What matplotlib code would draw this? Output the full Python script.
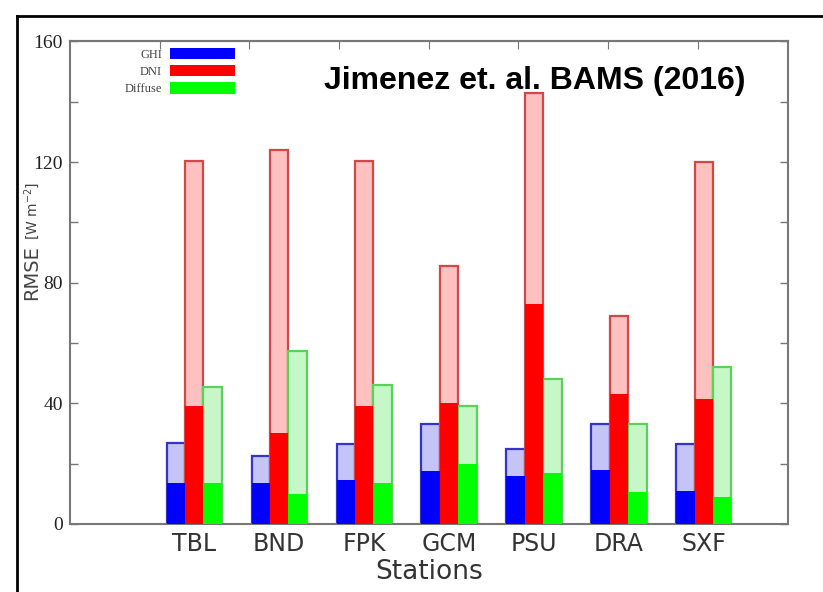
import matplotlib
matplotlib.use("Agg")
import matplotlib.pyplot as plt
from matplotlib.lines import Line2D
from matplotlib.patches import Patch
import numpy as np

stations = ["TBL", "BND", "FPK", "GCM", "PSU", "DRA", "SXF"]

# light (outer) bars and solid (inner) bars, RMSE in W m-2
ghi_outer = [27, 22.5, 26.5, 33, 25, 33.3, 26.4]
ghi_inner = [13.5, 13.5, 14.5, 17.5, 15.8, 17.8, 10.9]
dni_outer = [120.5, 124, 120.5, 85.5, 143, 69, 120]
dni_inner = [39, 30, 39, 40, 73, 43, 41.5]
dif_outer = [45.5, 57.4, 46, 39, 48, 33.3, 52]
dif_inner = [13.5, 9.9, 13.5, 20, 16.8, 10.6, 9]

# colours
dark = ["#0000ff", "#ff0000", "#00ff00"]
light = ["#c4c4f6", "#ffc0c0", "#c6f7c6"]
edge = ["#3434c8", "#d04848", "#5ad25a"]

fig = plt.figure(figsize=(8.23, 5.92), dpi=100)
ax = fig.add_axes([0.085, 0.115, 0.872, 0.815])

x = 1.385 + 0.947 * np.arange(len(stations))
w = 0.205
offsets = [-w, 0, w]
outers = [ghi_outer, dni_outer, dif_outer]
inners = [ghi_inner, dni_inner, dif_inner]

for k in range(3):
    ax.bar(x + offsets[k], outers[k], w, color=light[k], edgecolor=edge[k],
           linewidth=1.6, zorder=2)
    ax.bar(x + offsets[k], inners[k], w, color=dark[k], edgecolor="none",
           linewidth=0, zorder=3)

ax.set_xlim(0, 8)
ax.set_ylim(0, 160)

for s in ax.spines.values():
    s.set_color("#777777")
    s.set_linewidth(1.5)

ax.set_yticks([0, 40, 80, 120, 160])
ax.set_yticks(np.arange(0, 161, 20), minor=True)
ax.tick_params(axis="y", which="both", direction="in", right=True, length=6,
               width=1, color="#777777", labelsize=14, pad=5)
for lab in ax.get_yticklabels():
    lab.set_fontfamily("Liberation Serif")
    lab.set_color("#222222")

ax.set_xticks(x)
ax.set_xticklabels(stations, fontsize=17, color="#333333")
ax.tick_params(axis="x", length=0, pad=6)

top = ax.secondary_xaxis("top")
top.set_xticks(np.arange(1, 8))
top.set_xticklabels([])
top.tick_params(direction="in", length=6, color="#777777")
top.spines["top"].set_color("#777777")
top.spines["top"].set_linewidth(1.5)

ax.set_xlabel("Stations", fontsize=19, color="#333333", labelpad=2)

fig.text(0.039, 0.54, "RMSE", rotation=90, fontsize=14, color="#444444",
         ha="center", va="center")
fig.text(0.039, 0.643, "[W m$^{-2}$]", rotation=90, fontsize=10,
         color="#444444", ha="center", va="center")

handles = [Patch(facecolor=dark[k], edgecolor="none") for k in range(3)]
leg = ax.legend(handles, ["GHI", "DNI", "Diffuse"], loc="upper right",
                bbox_to_anchor=(0.245, 1.01), frameon=False, markerfirst=False,
                handlelength=5.2, handleheight=1.0, labelspacing=0.35,
                prop={"family": "Liberation Serif", "size": 9},
                handletextpad=0.6)
for t in leg.get_texts():
    t.set_color("#444444")

ax.text(0.648, 0.917, "Jimenez et. al. BAMS (2016)", transform=ax.transAxes,
        fontsize=23, fontweight="bold", family="Liberation Sans",
        ha="center", va="center", color="black")

# outer frame of the picture
fig.add_artist(Line2D([17 / 823, 17 / 823], [0, 1 - 16 / 592],
                      color="black", linewidth=2, transform=fig.transFigure))
fig.add_artist(Line2D([17 / 823, 1], [1 - 16 / 592, 1 - 16 / 592],
                      color="black", linewidth=2, transform=fig.transFigure))

fig.savefig("out.png", dpi=100)
